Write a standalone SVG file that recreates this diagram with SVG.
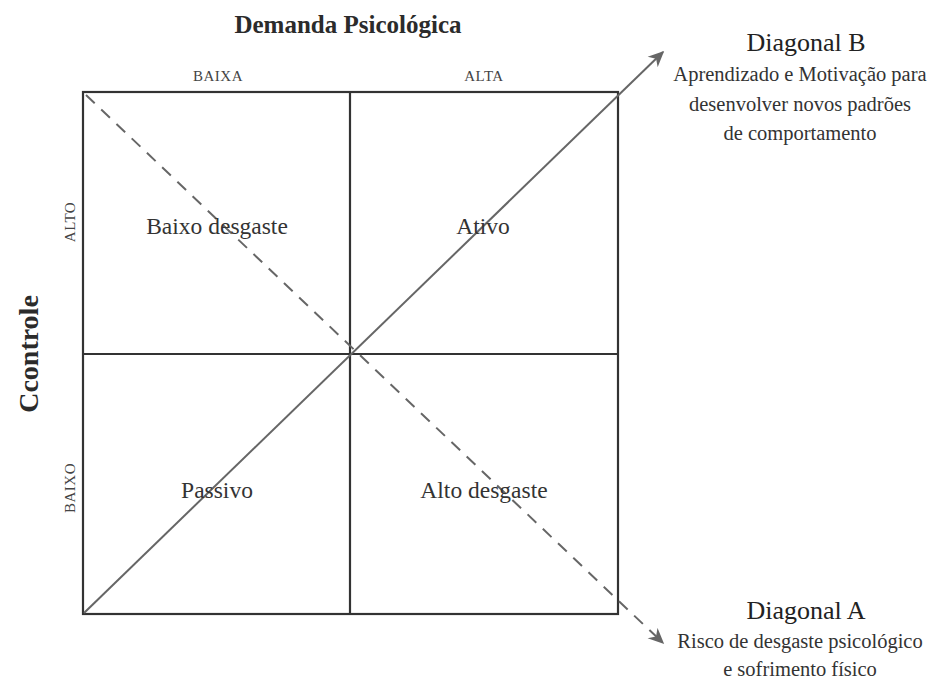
<svg xmlns="http://www.w3.org/2000/svg" width="932" height="687" viewBox="0 0 932 687">
<style>
text{font-family:"Liberation Serif","DejaVu Serif",serif;fill:#2b2b2b}
.t{font-weight:bold;font-size:25px}
.s{font-size:15px;fill:#444;letter-spacing:0.5px}
.q{font-size:23.5px;fill:#333}
.d{font-size:20.5px;fill:#333}
.h{font-size:26px;fill:#222}
.box{fill:none;stroke:#333;stroke-width:2.2}
.diag{fill:none;stroke:#666;stroke-width:2}
</style>
<defs>
<marker id="ah2" viewBox="0 0 10 10" refX="9" refY="5" markerWidth="16" markerHeight="16" markerUnits="userSpaceOnUse" orient="auto">
<path d="M0,0.5 L10,5 L0,9.5 L3,5 Z" fill="#666"/>
</marker>
</defs>
<rect x="0" y="0" width="932" height="687" fill="#fff"/>
<g id="grid">
<rect class="box" x="83" y="92" width="535" height="522"/>
<line class="box" x1="350" y1="92" x2="350" y2="614"/>
<line class="box" x1="83" y1="354" x2="618" y2="354"/>
</g>
<g id="connectors">
<line class="diag" x1="84" y1="613" x2="663" y2="52" marker-end="url(#ah2)"/>
<line class="diag" x1="86" y1="95" x2="663" y2="643" stroke-dasharray="12,9" marker-end="url(#ah2)"/>
</g>
<g id="axis-top">
<text class="t" x="348" y="33" text-anchor="middle">Demanda Psicológica</text>
<text class="s" x="218" y="81" text-anchor="middle">BAIXA</text>
<text class="s" x="484" y="81" text-anchor="middle">ALTA</text>
</g>
<g id="axis-left">
<text class="t" transform="translate(38,354) rotate(-90)" text-anchor="middle" style="font-size:28px">Ccontrole</text>
<text class="s" transform="translate(75,222) rotate(-90)" text-anchor="middle">ALTO</text>
<text class="s" transform="translate(75,488) rotate(-90)" text-anchor="middle">BAIXO</text>
</g>
<g id="q-baixo-desgaste"><text class="q" x="217" y="234" text-anchor="middle">Baixo desgaste</text></g>
<g id="q-ativo"><text class="q" x="483" y="234" text-anchor="middle">Ativo</text></g>
<g id="q-passivo"><text class="q" x="217" y="498" text-anchor="middle">Passivo</text></g>
<g id="q-alto-desgaste"><text class="q" x="484" y="498" text-anchor="middle">Alto desgaste</text></g>
<g id="diagonal-b">
<text class="h" x="806" y="51" text-anchor="middle">Diagonal B</text>
<text class="d" x="800" y="81" text-anchor="middle">Aprendizado e Motivação para</text>
<text class="d" x="800" y="111" text-anchor="middle">desenvolver novos padrões</text>
<text class="d" x="800" y="140" text-anchor="middle">de comportamento</text>
</g>
<g id="diagonal-a">
<text class="h" x="806" y="619" text-anchor="middle">Diagonal A</text>
<text class="d" x="800" y="648" text-anchor="middle">Risco de desgaste psicológico</text>
<text class="d" x="800" y="676" text-anchor="middle">e sofrimento físico</text>
</g>
</svg>
